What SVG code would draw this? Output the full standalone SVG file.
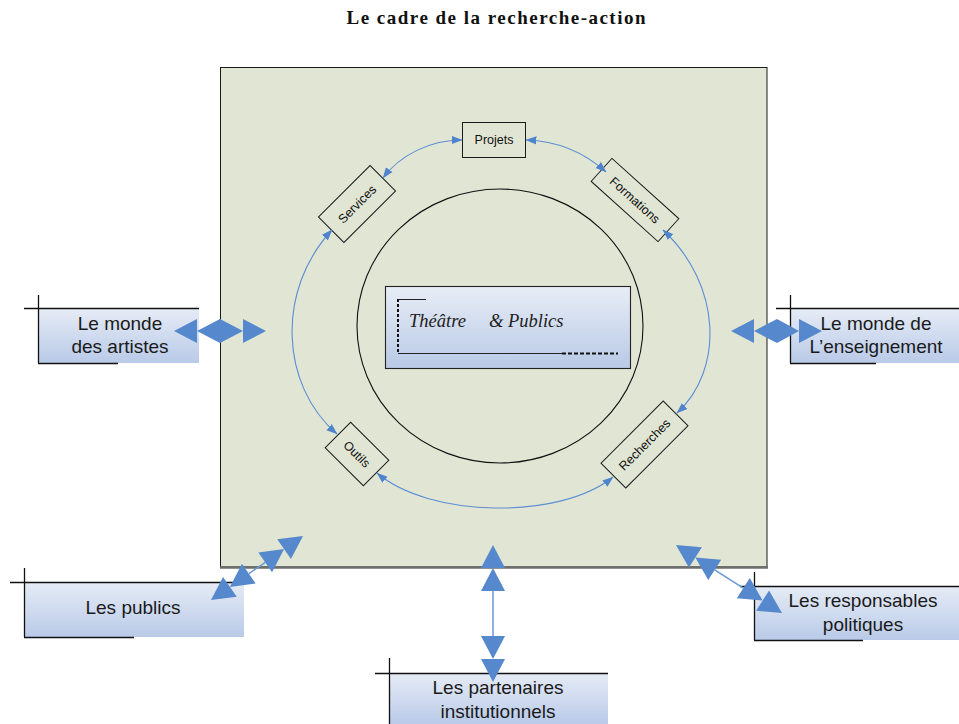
<svg xmlns="http://www.w3.org/2000/svg" width="959" height="724" viewBox="0 0 959 724">
<style>
.title{font-family:"Liberation Serif","Times New Roman",serif;font-weight:bold;font-size:19px;fill:#111}
.inner rect{fill:none;stroke:#1a1a1a;stroke-width:1}
.inner text{font-family:"Liberation Sans",Arial,sans-serif;font-size:12.5px;fill:#111;text-anchor:middle}
.outer text{font-family:"Liberation Sans",Arial,sans-serif;font-size:19px;fill:#1a1a1a;text-anchor:middle}
.box{fill:url(#bg)}
.edge{stroke:#111;stroke-width:1.3;fill:none}
.cycle{fill:none;stroke:#5b8ed3;stroke-width:1.1;marker-start:url(#ah);marker-end:url(#ah)}
.big{fill:#5588cc}
.shaft{stroke:#6a98d6;stroke-width:1.5}
</style>
<defs>
<linearGradient id="bg" x1="0" y1="0" x2="0" y2="1">
<stop offset="0" stop-color="#e6ecf6"/>
<stop offset="1" stop-color="#b9cae8"/>
</linearGradient>
<linearGradient id="tg" x1="0" y1="0" x2="0" y2="1">
<stop offset="0" stop-color="#e8edf6"/>
<stop offset="1" stop-color="#b8c9e6"/>
</linearGradient>
<marker id="ah" viewBox="0 0 10 10" refX="9.5" refY="5" markerWidth="11" markerHeight="11" markerUnits="userSpaceOnUse" orient="auto-start-reverse">
<path d="M0,1.3 L10,5 L0,8.7 z" fill="#4f84cc"/>
</marker>
</defs>
<rect width="959" height="724" fill="#ffffff"/>
<text class="title" x="496" y="24" text-anchor="middle" textLength="299" lengthAdjust="spacing">Le cadre de la recherche-action</text>

<g id="cadre">
<rect x="220.5" y="67.5" width="546.5" height="499.5" fill="#e1e5d4" stroke="#1a1a1a" stroke-width="1"/>
<line x1="220" y1="567.5" x2="768" y2="567.5" stroke="#6e6e6e" stroke-width="2.5"/>
</g>

<g id="cercle">
<ellipse cx="500" cy="326" rx="143" ry="137" fill="none" stroke="#111" stroke-width="1.1"/>
</g>

<g id="theatre-publics">
<rect x="385.5" y="286.5" width="245" height="82" fill="url(#tg)" stroke="#222" stroke-width="1.1"/>
<line x1="398" y1="299.5" x2="426" y2="299.5" stroke="#222" stroke-width="1"/>
<line x1="398" y1="299" x2="398" y2="354" stroke="#111" stroke-width="2" stroke-dasharray="3,2"/>
<line x1="398" y1="353.5" x2="562" y2="353.5" stroke="#222" stroke-width="1"/>
<line x1="562" y1="353.5" x2="618" y2="353.5" stroke="#111" stroke-width="2" stroke-dasharray="4,2"/>
<text x="409" y="327" font-family="'Liberation Serif','Times New Roman',serif" font-style="italic" font-size="18.5" fill="#222">Théâtre</text>
<text x="489" y="327" font-family="'Liberation Serif','Times New Roman',serif" font-style="italic" font-size="18.5" fill="#222">&amp; Publics</text>
</g>

<g id="projets" class="inner">
<rect x="462.5" y="122.5" width="63" height="35"/>
<text x="494" y="144">Projets</text>
</g>
<g id="services" class="inner" transform="translate(357,204) rotate(-45)">
<rect x="-36.5" y="-18" width="73" height="36"/>
<text x="0" y="4.5">Services</text>
</g>
<g id="formations" class="inner" transform="translate(635,200) rotate(42)">
<rect x="-45" y="-15.5" width="90" height="31"/>
<text x="0" y="4.5">Formations</text>
</g>
<g id="outils" class="inner" transform="translate(357,454) rotate(45)">
<rect x="-27" y="-18" width="54" height="36"/>
<text x="0" y="4.5">Outils</text>
</g>
<g id="recherches" class="inner" transform="translate(644.5,444.5) rotate(-45)">
<rect x="-44" y="-17.5" width="88" height="35"/>
<text x="0" y="4.5">Recherches</text>
</g>

<g id="artistes" class="outer">
<rect class="box" x="38" y="308" width="161" height="55"/>
<path class="edge" d="M24 308.5 H199 M38.5 295 V363 M38 363.5 H118"/>
<text x="120" y="330">Le monde</text>
<text x="120" y="353">des artistes</text>
</g>
<g id="enseignement" class="outer">
<rect class="box" x="790" y="308" width="169" height="55"/>
<path class="edge" d="M776 308.5 H959 M790.5 295 V363 M790 363.5 H876"/>
<text x="876" y="330">Le monde de</text>
<text x="876" y="353">L’enseignement</text>
</g>
<g id="publics" class="outer">
<rect class="box" x="24" y="582" width="220" height="55"/>
<path class="edge" d="M10 582.5 H244 M24.5 568 V637 M24 637.5 H134"/>
<text x="133" y="614">Les publics</text>
</g>
<g id="partenaires" class="outer">
<rect class="box" x="389" y="673" width="219" height="51"/>
<path class="edge" d="M375 673.5 H608 M389.5 658 V724"/>
<text x="498" y="694">Les partenaires</text>
<text x="498" y="718">institutionnels</text>
</g>
<g id="responsables" class="outer">
<rect class="box" x="754" y="586" width="205" height="54"/>
<path class="edge" d="M740 586.5 H959 M754.5 572 V640 M754 640.5 H863"/>
<text x="863" y="607">Les responsables</text>
<text x="863" y="631">politiques</text>
</g>

<g id="connecteurs">
<path class="cycle" d="M462 140 C430 140 400 155 383 178"/>
<path class="cycle" d="M526 140 C560 141 586 154 606 172"/>
<path class="cycle" d="M332 230 C276 290 280 385 337 434"/>
<path class="cycle" d="M663 230 C722 285 724 370 677 413"/>
<path class="cycle" d="M377 473 C430 518 560 520 613 477"/>

<g class="big">
<polygon points="174,331 197,319 197,343"/>
<polygon points="197,331 220,319 220,343"/>
<polygon points="266,331 243,319 243,343"/>
<polygon points="243,331 220,319 220,343"/>

<polygon points="731,331 754,319 754,343"/>
<polygon points="754,331 777,319 777,343"/>
<polygon points="822,331 799,319 799,343"/>
<polygon points="799,331 777,319 777,343"/>

<line class="shaft" x1="493" y1="591" x2="493" y2="636"/>
<polygon points="493,545 481,568 505,568"/>
<polygon points="493,568 481,591 505,591"/>
<polygon points="493,659 481,636 505,636"/>
<polygon points="493,682 481,659 505,659"/>

<line class="shaft" x1="248.8" y1="573.7" x2="265.2" y2="562.3"/>
<polygon points="211,600 236.75,596.75 223.05,577.05"/>
<polygon points="229.9,586.9 255.65,583.55 241.95,563.85"/>
<polygon points="284.1,549.1 272.05,572.15 258.35,552.45"/>
<polygon points="303,536 290.95,558.95 277.25,539.25"/>

<line class="shaft" x1="714.7" y1="569.8" x2="743.3" y2="588.2"/>
<polygon points="676,545 688.9,567.5 701.9,547.3"/>
<polygon points="695.4,557.4 708.2,579.9 721.2,559.7"/>
<polygon points="762.6,600.6 736.8,598.3 749.8,578.1"/>
<polygon points="782,613 756.1,610.7 769.1,590.5"/>
</g>
</g>
</svg>
